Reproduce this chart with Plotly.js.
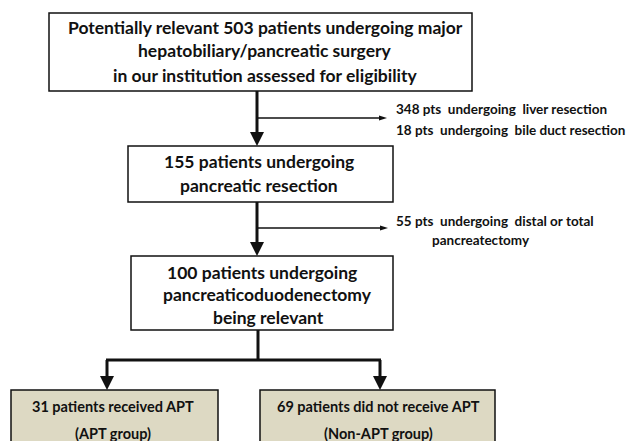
<!DOCTYPE html>
<html>
<head>
<meta charset="utf-8">
<script src="https://cdn.plot.ly/plotly-3.0.1.min.js"></script>
<style>html,body{margin:0;padding:0;background:#fff;}</style>
</head>
<body>
<div id="chart" style="width:627px;height:441px;"></div>
<script>
// ---- Flowchart content ----
const box1Lines = ["Potentially relevant 503 patients undergoing major", "hepatobiliary/pancreatic surgery", "in our institution assessed for eligibility"];
const box2Lines = ["155 patients undergoing", "pancreatic resection"];
const box3Lines = ["100 patients undergoing", "pancreaticoduodenectomy", "being relevant"];
const exclusion1Lines = ["348 pts  undergoing  liver resection", "18 pts  undergoing  bile duct resection"];
const exclusion2Lines = ["55 pts  undergoing  distal or total", "pancreatectomy"];
const groupLeftLines = ["31 patients received APT", "(APT group)"];
const groupRightLines = ["69 patients did not receive APT", "(Non-APT group)"];

const FONT = "Lato, 'Open Sans', sans-serif";
const shapes = [];
const annotations = [];

function rect(x0, y0, x1, y1, fill) {
  shapes.push({type: 'rect', xref: 'x', yref: 'y', x0, y0, x1, y1,
    line: {color: '#111', width: 1.5}, fillcolor: fill || 'rgba(0,0,0,0)', layer: 'below'});
}
function line(x0, y0, x1, y1, w) {
  shapes.push({type: 'line', xref: 'x', yref: 'y', x0, y0, x1, y1, line: {color: '#111', width: w}});
}
function headDown(x, yTip, hw, h) {
  shapes.push({type: 'path', xref: 'x', yref: 'y',
    path: `M ${x - hw} ${yTip - h} L ${x + hw} ${yTip - h} L ${x} ${yTip} Z`,
    fillcolor: '#111', line: {color: '#111', width: 0}});
}
function headRight(xTip, y, hw, h) {
  shapes.push({type: 'path', xref: 'x', yref: 'y',
    path: `M ${xTip - h} ${y - hw} L ${xTip - h} ${y + hw} L ${xTip} ${y} Z`,
    fillcolor: '#111', line: {color: '#111', width: 0}});
}
function text(str, x, y, size, anchor) {
  annotations.push({text: '<b>' + str + '</b>', x, y, xref: 'x', yref: 'y', showarrow: false,
    xanchor: anchor || 'center', yanchor: 'middle', font: {family: FONT, size, color: '#111'}});
}

// Boxes
rect(49, 13, 472, 91);
rect(128, 146, 393, 202);
rect(131, 256, 393, 330);
rect(11, 390, 218, 460, '#ddd9c3');
rect(260, 390, 495, 460, '#ddd9c3');

// Main arrows
line(257, 91, 257, 134, 3); headDown(257, 146, 7, 14);
line(257, 118, 380, 118, 1.5); headRight(387, 118, 2.5, 8);
line(257, 202, 257, 244, 3); headDown(257, 256, 7, 14);
line(257, 228, 381, 228, 1.5); headRight(388, 228, 2.5, 8);
line(258, 330, 258, 360, 3);
line(106, 360, 381, 360, 3);
line(107, 360, 107, 376, 3); headDown(107, 390, 7, 14);
line(380, 360, 380, 376, 3); headDown(380, 390, 7, 14);

// Texts
const b1y = [27, 50, 75];
box1Lines.forEach((t, i) => text(t, 265, b1y[i], 17.5));
const b2y = [161, 185];
box2Lines.forEach((t, i) => text(t, 259, b2y[i], 17.5));
const b3y = [272, 294, 317];
const b3x = [262, 267, 268];
box3Lines.forEach((t, i) => text(t, b3x[i], b3y[i], 17.5));
text(exclusion1Lines[0], 394, 109, 13.5, 'left');
text(exclusion1Lines[1], 394, 130, 13.5, 'left');
text(exclusion2Lines[0], 394, 221, 13.5, 'left');
text(exclusion2Lines[1], 481, 240, 13.5, 'center');
const gy = [406, 433];
groupLeftLines.forEach((t, i) => text(t, 113, gy[i], 14.5));
groupRightLines.forEach((t, i) => text(t, 378, gy[i], 14.5));

const layout = {
  width: 627, height: 441,
  margin: {l: 0, r: 0, t: 0, b: 0},
  paper_bgcolor: '#fff', plot_bgcolor: '#fff',
  xaxis: {range: [0, 627], visible: false, fixedrange: true},
  yaxis: {range: [441, 0], visible: false, fixedrange: true},
  showlegend: false,
  shapes, annotations
};
Plotly.newPlot('chart', [{x: [], y: [], type: 'scatter', mode: 'markers'}], layout, {displayModeBar: false, staticPlot: true});
</script>
</body>
</html>
